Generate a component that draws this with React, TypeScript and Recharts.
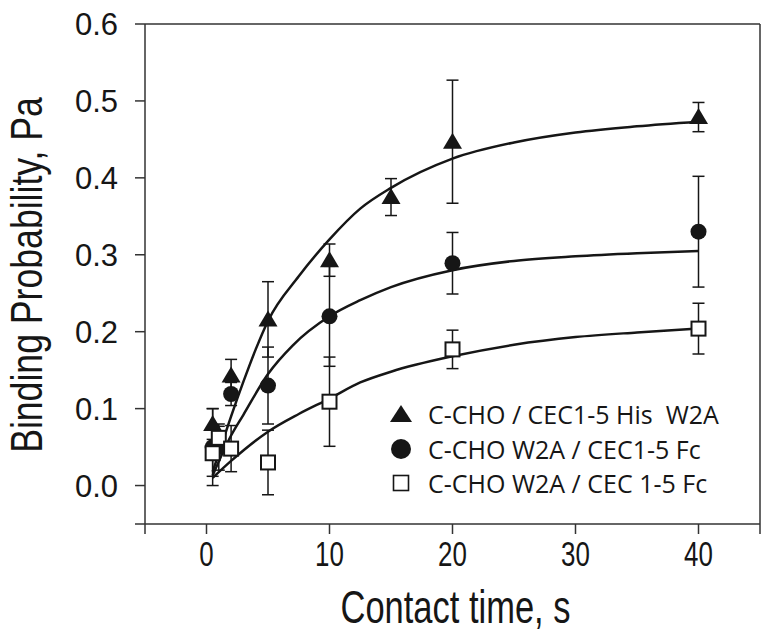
import React from 'react';
import {
  ComposedChart, Scatter, Line, XAxis, YAxis, ErrorBar, ReferenceLine, Label,
} from 'recharts';

// measured points (contact time in s)
const triX = [0.5, 2, 5, 10, 15, 20, 40];
const triY = [0.08, 0.143, 0.216, 0.293, 0.375, 0.447, 0.479];
const triErr = [0.02, 0.021, 0.049, 0.021, 0.024, 0.08, 0.019];

const circX = [0.5, 1, 2, 5, 10, 20, 40];
const circY = [0.05, 0.05, 0.119, 0.13, 0.22, 0.289, 0.33];
const circErr = [0.05, 0.03, 0.015, 0.05, 0.065, 0.04, 0.072];

const sqX = [0.5, 1, 2, 5, 10, 20, 40];
const sqY = [0.042, 0.062, 0.048, 0.03, 0.109, 0.177, 0.204];
const sqErr = [0.03, 0.015, 0.03, 0.042, 0.058, 0.025, 0.033];

// fitted curves
const triCurveX = [0.5, 1, 2, 3, 4, 5, 7.5, 10, 12.5, 15, 20, 25, 30, 35, 40];
const triCurveY = [0.018, 0.042, 0.09, 0.135, 0.177, 0.214, 0.272, 0.32, 0.36, 0.387, 0.425, 0.446, 0.459, 0.467, 0.473];

const circCurveX = [0.5, 2, 3, 5, 7, 10, 12.5, 15, 20, 25, 30, 35, 40];
const circCurveY = [0.013, 0.065, 0.092, 0.145, 0.182, 0.22, 0.241, 0.258, 0.28, 0.292, 0.298, 0.302, 0.305];

const sqCurveX = [0.5, 2, 5, 7.5, 10, 12.5, 15, 20, 25, 30, 35, 40];
const sqCurveY = [0.01, 0.032, 0.07, 0.093, 0.113, 0.134, 0.148, 0.168, 0.183, 0.193, 0.199, 0.204];

const xTicks = [-5, 0, 10, 20, 30, 40, 45];
const yTicks = [-0.05, 0, 0.1, 0.2, 0.3, 0.4, 0.5, 0.6];

const legendNames = [
  'C-CHO / CEC1-5 His\u00a0\u00a0W2A',
  'C-CHO W2A / CEC1-5 Fc',
  'C-CHO W2A / CEC 1-5 Fc',
];

const toPoints = (xs: number[], ys: number[], errs?: number[]) =>
  xs.map((x, i) => ({ x, y: ys[i], err: errs ? errs[i] : 0 }));

const INK = '#161616';
const AXIS = '#333';
const SANS = '"Liberation Sans", Arial, sans-serif';

// condensed look: regular sans squeezed horizontally
const XTick = (props: any) => {
  const { x, y, payload } = props;
  const v = payload.value;
  if (v < 0 || v > 40) return null;
  return (
    <text transform={`translate(${x},${y}) scale(0.72,1)`} textAnchor="middle" dy="0.71em"
      fill={INK} fontSize={36} fontFamily={SANS}>{v}</text>
  );
};

const XTitle = (props: any) => {
  const { x, y, width } = props.viewBox;
  return (
    <text transform={`translate(${x + width / 2 + 3},${y + 99}) scale(0.75,1)`} textAnchor="middle"
      fill={INK} fontSize={46} fontFamily={SANS}>Contact time, s</text>
  );
};

const YTitle = (props: any) => {
  const { y, height } = props.viewBox;
  return (
    <text transform={`translate(42,${y + height / 2 + 1}) rotate(-90) scale(0.81,1)`} textAnchor="middle"
      fill={INK} fontSize={44} fontFamily={SANS}>Binding Probability, Pa</text>
  );
};

const Triangle = (props: any) => {
  const { cx, cy } = props;
  return <polygon points={`${cx - 9.5},${cy + 7} ${cx + 9.5},${cy + 7} ${cx},${cy - 9}`} fill={INK} />;
};
const Dot = (props: any) => <circle cx={props.cx} cy={props.cy} r={8} fill={INK} />;
const Square = (props: any) => (
  <rect x={props.cx - 7} y={props.cy - 7} width={14} height={14} fill="#fff" stroke={INK} strokeWidth={2} />
);

const LegendBox = () => (
  <div style={{ position: 'absolute', left: 388, top: 397, fontFamily: '"Open Sans", sans-serif', fontSize: 25, color: INK, whiteSpace: 'nowrap' }}>
    {legendNames.map((name, i) => (
      <div key={name} style={{ display: 'flex', alignItems: 'center', height: 34.5 }}>
        <svg width={26} height={24} style={{ marginRight: 14, flex: 'none' }}>
          {i === 0 && <polygon points="2,20 24,20 13,3" fill={INK} />}
          {i === 1 && <circle cx={13} cy={12} r={10} fill={INK} />}
          {i === 2 && <rect x={5.5} y={4.5} width={15} height={15} fill="#fff" stroke={INK} strokeWidth={1.6} />}
        </svg>
        <span>{name}</span>
      </div>
    ))}
  </div>
);

export default function App() {
  return (
    <div style={{ position: 'absolute', left: 0, top: 0, width: 774, height: 643, background: '#fff' }}>
      <ComposedChart width={774} height={643} margin={{ top: 24, right: 14, bottom: 0, left: 0 }}>
        <XAxis
          type="number"
          dataKey="x"
          domain={[-5, 45]}
          ticks={xTicks}
          height={119}
          tickSize={10}
          tickMargin={6}
          stroke={AXIS}
          strokeWidth={1.5}
          tick={<XTick />}
          allowDataOverflow
        >
          <Label content={<XTitle />} />
        </XAxis>
        <YAxis
          type="number"
          dataKey="y"
          domain={[-0.05, 0.6]}
          ticks={yTicks}
          tickFormatter={(v: number) => (v < 0 ? '' : v.toFixed(1))}
          width={145}
          tickSize={10}
          tickMargin={17}
          stroke={AXIS}
          strokeWidth={1.5}
          tick={{ fill: INK, fontSize: 31, fontFamily: SANS }}
          allowDataOverflow
        >
          <Label content={<YTitle />} />
        </YAxis>
        <ReferenceLine y={0.6} stroke={AXIS} strokeWidth={1.5} />
        <ReferenceLine x={45} stroke={AXIS} strokeWidth={1.5} />

        <Line data={toPoints(triCurveX, triCurveY)} dataKey="y" type="monotone" dot={false} activeDot={false}
          stroke={INK} strokeWidth={2.5} isAnimationActive={false} />
        <Line data={toPoints(circCurveX, circCurveY)} dataKey="y" type="monotone" dot={false} activeDot={false}
          stroke={INK} strokeWidth={2.5} isAnimationActive={false} />
        <Line data={toPoints(sqCurveX, sqCurveY)} dataKey="y" type="monotone" dot={false} activeDot={false}
          stroke={INK} strokeWidth={2.5} isAnimationActive={false} />

        <Scatter data={toPoints(triX, triY, triErr)} dataKey="y" shape={Triangle} isAnimationActive={false}>
          <ErrorBar dataKey="err" direction="y" width={6} stroke={INK} strokeWidth={1.5} />
        </Scatter>
        <Scatter data={toPoints(circX, circY, circErr)} dataKey="y" shape={Dot} isAnimationActive={false}>
          <ErrorBar dataKey="err" direction="y" width={6} stroke={INK} strokeWidth={1.5} />
        </Scatter>
        <Scatter data={toPoints(sqX, sqY, sqErr)} dataKey="y" shape={Square} isAnimationActive={false}>
          <ErrorBar dataKey="err" direction="y" width={6} stroke={INK} strokeWidth={1.5} />
        </Scatter>
      </ComposedChart>
      <LegendBox />
    </div>
  );
}
